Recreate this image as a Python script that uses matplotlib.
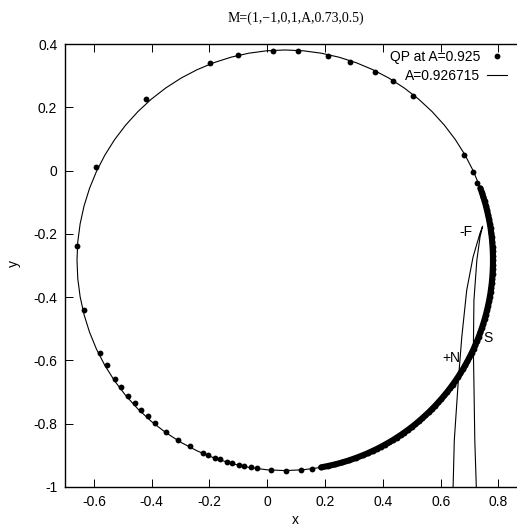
import matplotlib
matplotlib.use("Agg")
import matplotlib.pyplot as plt

plt.rcParams['font.family'] = ['Liberation Sans', 'DejaVu Sans']

# Invariant curve at A=0.926715 (closed loop)
curve_x = [0.7809, 0.7782, 0.7700, 0.7564, 0.7375, 0.7135, 0.6845, 0.6508, 0.6125, 0.5701,
           0.5238, 0.4740, 0.4211, 0.3653, 0.3073, 0.2475, 0.1861, 0.1240, 0.0612, -0.0016,
           -0.0637, -0.1251, -0.1849, -0.2429, -0.2987, -0.3516, -0.4014, -0.4477, -0.4901,
           -0.5284, -0.5621, -0.5911, -0.6151, -0.6340, -0.6476, -0.6558, -0.6585,
           -0.6558, -0.6476, -0.6340, -0.6151, -0.5911, -0.5621, -0.5284, -0.4901, -0.4477,
           -0.4014, -0.3516, -0.2987, -0.2429, -0.1849, -0.1251, -0.0637, -0.0016, 0.0612,
           0.1240, 0.1861, 0.2475, 0.3073, 0.3653, 0.4211, 0.4740, 0.5238, 0.5701, 0.6125,
           0.6508, 0.6845, 0.7135, 0.7375, 0.7564, 0.7700, 0.7782, 0.7809]
curve_y = [-0.2835, -0.2255, -0.1681, -0.1115, -0.0562, -0.0026, 0.0488, 0.0977, 0.1437, 0.1864,
           0.2256, 0.2609, 0.2921, 0.3188, 0.3410, 0.3584, 0.3710, 0.3786, 0.3811, 0.3786,
           0.3710, 0.3584, 0.3410, 0.3188, 0.2921, 0.2609, 0.2256, 0.1864, 0.1437,
           0.0977, 0.0488, -0.0026, -0.0562, -0.1115, -0.1681, -0.2255, -0.2835,
           -0.3415, -0.3989, -0.4555, -0.5108, -0.5644, -0.6158, -0.6647, -0.7107, -0.7534,
           -0.7926, -0.8279, -0.8590, -0.8858, -0.9080, -0.9254, -0.9380, -0.9456, -0.9481,
           -0.9456, -0.9380, -0.9254, -0.9080, -0.8858, -0.8590, -0.8279, -0.7926, -0.7534, -0.7107,
           -0.6647, -0.6158, -0.5644, -0.5108, -0.4555, -0.3989, -0.3415, -0.2835]

# Fold branch through the -F point
branch_x = [0.6415, 0.647, 0.661, 0.673, 0.690, 0.712, 0.736, 0.745,
            0.736, 0.725, 0.715, 0.713, 0.715, 0.718, 0.725]
branch_y = [-1.05, -0.853, -0.663, -0.526, -0.378, -0.273, -0.198, -0.176,
            -0.210, -0.284, -0.410, -0.568, -0.673, -0.853, -1.05]

# Quasi-periodic orbit points at A=0.925: scattered part
qp_x = [0.6817, 0.7107, 0.7266, 0.504, 0.435, 0.3727, 0.2862, 0.21, 0.1062, 0.0197,
        -0.1014, -0.1983, -0.4197, -0.5927, -0.6574, -0.6343, -0.580, -0.5557, -0.527,
        -0.5062, -0.481, -0.4578, -0.4353, -0.4128, -0.3886, -0.3495, -0.309, -0.2664,
        -0.2235, -0.2042, -0.181, -0.1626, -0.1384, -0.1221, -0.0979, -0.0796, -0.0574,
        -0.0367, 0.0118, 0.0637, 0.1156, 0.1557]
qp_y = [0.049, -0.004, -0.039, 0.2354, 0.283, 0.3104, 0.342, 0.363, 0.378, 0.379,
        0.366, 0.341, 0.225, 0.011, -0.239, -0.442, -0.5756, -0.616, -0.658,
        -0.683, -0.712, -0.736, -0.758, -0.777, -0.797, -0.825, -0.850, -0.872,
        -0.891, -0.900, -0.907, -0.913, -0.920, -0.925, -0.931, -0.934, -0.938,
        -0.941, -0.946, -0.948, -0.946, -0.942]

# Quasi-periodic orbit points at A=0.925: accumulated part
qpd_x = [0.1861, 0.2108, 0.2353, 0.2595, 0.2836, 0.3073, 0.3308, 0.3481, 0.3653, 0.3795,
         0.3935, 0.4074, 0.4211, 0.4346, 0.4479, 0.4611, 0.4740, 0.4868, 0.4994, 0.5117,
         0.5238, 0.5357, 0.5474, 0.5589, 0.5701, 0.5811, 0.5918, 0.6023, 0.6125, 0.6225,
         0.6322, 0.6416, 0.6508, 0.6596, 0.6682, 0.6765, 0.6845, 0.6922, 0.6996, 0.7067,
         0.7135, 0.7199, 0.7261, 0.7320, 0.7375, 0.7427, 0.7476, 0.7521, 0.7564, 0.7602,
         0.7638, 0.7671, 0.7700, 0.7726, 0.7747, 0.7767, 0.7782, 0.7794, 0.7802, 0.7808,
         0.7809, 0.7808, 0.7802, 0.7794, 0.7782, 0.7767, 0.7747, 0.7726, 0.7700, 0.7671,
         0.7638, 0.7602, 0.7564, 0.7521, 0.7476, 0.7427, 0.7375]
qpd_y = [-0.9380, -0.9335, -0.9284, -0.9224, -0.9156, -0.9080, -0.8997, -0.8930, -0.8858, -0.8796,
         -0.8730, -0.8661, -0.8590, -0.8517, -0.8440, -0.8361, -0.8279, -0.8194, -0.8108, -0.8018,
         -0.7926, -0.7831, -0.7735, -0.7636, -0.7534, -0.7431, -0.7325, -0.7217, -0.7107, -0.6995,
         -0.6881, -0.6765, -0.6647, -0.6527, -0.6406, -0.6283, -0.6158, -0.6032, -0.5903, -0.5775,
         -0.5644, -0.5511, -0.5378, -0.5244, -0.5108, -0.4971, -0.4833, -0.4695, -0.4555, -0.4415,
         -0.4273, -0.4132, -0.3989, -0.3846, -0.3702, -0.3559, -0.3415, -0.3270, -0.3125, -0.2980,
         -0.2835, -0.2690, -0.2545, -0.2400, -0.2255, -0.2111, -0.1968, -0.1824, -0.1681, -0.1538,
         -0.1397, -0.1255, -0.1115, -0.0975, -0.0837, -0.0699, -0.0562]

# Point labels
pt_labels = ['-F', '+N', 'S']
pt_x = [0.6875, 0.6356, 0.7637]
pt_y = [-0.195, -0.5937, -0.530]

x_ticks = [-0.6, -0.4, -0.2, 0, 0.2, 0.4, 0.6, 0.8]
y_ticks = [0.4, 0.2, 0, -0.2, -0.4, -0.6, -0.8, -1]

W, H = 517, 531
fig = plt.figure(figsize=(W / 100, H / 100), dpi=100)
ax = fig.add_axes([65 / W, 44 / H, 462.4 / W, 443 / H])

ms = 4.2
qp, = ax.plot(qp_x, qp_y, linestyle='none', marker='o', markersize=ms,
              color='black', markeredgewidth=0, label='QP at A=0.925')
# densely packed iterates merge into a solid band
ax.plot(qpd_x, qpd_y, linestyle='-', linewidth=ms + 0.2, solid_capstyle='round',
        marker='o', markersize=ms, markeredgewidth=0, color='black')
cv, = ax.plot(curve_x, curve_y, color='black', linewidth=0.8, label='A=0.926715')
ax.plot(branch_x, branch_y, color='black', linewidth=0.8)

for t, x, y in zip(pt_labels, pt_x, pt_y):
    ax.text(x, y, t, fontsize=10, ha='center', va='center')

ax.set_xlim(-0.7, 0.9)
ax.set_ylim(-1, 0.4)
ax.set_xticks(x_ticks)
ax.set_xticklabels([f'{v:g}' for v in x_ticks])
ax.set_yticks(y_ticks)
ax.set_yticklabels([f'{v:g}' for v in y_ticks])
ax.tick_params(direction='in', length=6, width=0.7, top=True, right=True,
               labelsize=10, pad=5.5)
for s in ax.spines.values():
    s.set_linewidth(1.0)

ax.legend(handles=[qp, cv], loc='upper right', bbox_to_anchor=(507 / W, 1 - 50 / H),
          bbox_transform=fig.transFigure, frameon=False, markerfirst=False,
          fontsize=10, handlelength=1.45, handletextpad=0.5, labelspacing=0.38,
          borderpad=0, borderaxespad=0)

fig.text(296 / W, 1 - 18 / H, 'M=(1,\u22121,0,1,A,0.73,0.5)', family='Liberation Serif',
         fontsize=10, ha='center', va='center')
fig.text(295 / W, 1 - 520 / H, 'x', fontsize=10, ha='center', va='center')
fig.text(14 / W, 1 - 263 / H, 'y', fontsize=10, ha='center', va='center', rotation=90)

fig.savefig('out.png', dpi=100)
